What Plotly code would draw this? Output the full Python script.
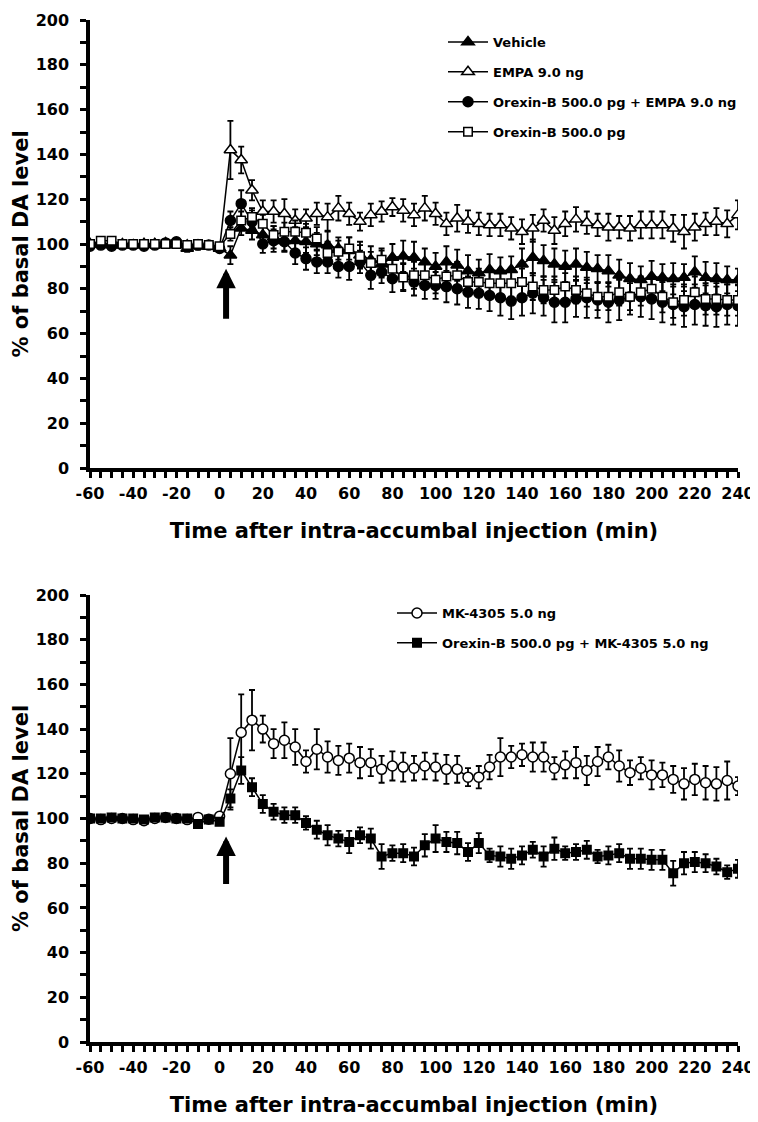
import plotly.graph_objects as go

# sampling times (min), every 5 min from -60 to 240
time_min = list(range(-60, 245, 5))

# axis tick labels (plain hyphen minus, as in the original figure)
x_tickvals = [-60, -40, -20, 0, 20, 40, 60, 80, 100, 120, 140, 160, 180, 200, 220, 240]
x_ticktext = ["-60", "-40", "-20", "0", "20", "40", "60", "80", "100", "120",
              "140", "160", "180", "200", "220", "240"]

# ---- top panel: % of basal DA ----
vehicle = [100, 100, 99.5, 100, 99.5, 100, 100, 100.5, 100, 98, 99, 99, 98,
           95, 107, 106, 104, 103, 101.5, 101.5, 101, 100, 99.5,
           98, 97, 95, 93, 91, 94, 94.5, 94, 92, 90,
           92, 90.5, 88, 87, 88.5, 88, 88.5, 91, 94, 92.5,
           91, 90, 91, 89.5, 89, 88, 86, 84.5, 84, 85.5,
           85, 84.5, 85, 87.5, 85, 84.5, 84, 84]
vehicle_err = [1.5, 1, 1.5, 1, 1, 1, 1, 1.5, 1, 1.5, 1.5, 1, 1.5,
               4, 3, 4, 5, 5, 5, 6, 5, 5, 6,
               5, 6, 6, 6, 6, 6, 7, 7, 6, 6,
               7, 7, 7, 6, 7, 6, 6, 7, 8, 7,
               7, 7, 7, 7, 6, 7, 7, 7, 6, 7,
               6, 7, 6, 7, 7, 7, 6, 5]

empa = [100, 100.5, 100, 99.5, 99.5, 100, 100, 99.5, 100, 99.5, 99.5, 99, 98,
        142, 137.5, 124, 114.5, 114.5, 113.5, 110.5, 111.5, 113.5, 112,
        116, 113.5, 110, 113, 114.5, 116.5, 115, 113, 116, 113.5,
        109, 111.5, 110, 109, 108.5, 108.5, 107, 105.5, 107, 110.5,
        106, 109, 111, 109.5, 108.5, 107.5, 107.5, 107, 108.5, 108.5,
        108.5, 107, 105.5, 107.5, 109, 110, 109, 113]
empa_err = [1, 1, 1, 1, 1, 1, 1, 1, 1, 1, 1, 1, 1.5,
            13, 6, 4.5, 5, 5, 6.5, 5, 4, 5, 6,
            5.5, 5, 4, 5, 4.5, 4, 5, 5, 5.5, 5,
            5, 6, 5, 5, 5, 5, 5, 5.5, 6, 5,
            6, 5.5, 5.5, 5, 5, 6, 5, 5.5, 6, 6,
            6, 6, 7.5, 6, 5, 6, 6, 6.5]

orx_empa = [99, 99.5, 99, 99.5, 99.5, 99, 99.5, 100.5, 101, 99, 99.5, 99.5, 98,
            110.5, 118, 110, 100, 101.5, 101, 96, 93.5, 92, 92,
            90, 90, 92, 86, 87.5, 84.5, 85.5, 83, 81.5, 81.5,
            81, 80, 78.5, 78, 77, 76, 74.5, 76, 78, 76,
            74, 74, 75.5, 76, 75, 74, 75, 76.5, 76.5, 75.5,
            74, 73, 72, 73, 72.5, 72, 73, 72.5]
orx_empa_err = [1, 1, 1, 1, 1, 1, 1, 1.5, 1.5, 1, 1, 1, 1.5,
                4, 6, 5, 4, 5, 4, 5, 5, 5, 5,
                5, 6, 5, 6, 5, 6, 6, 6, 6, 6,
                7, 7, 7, 7, 7, 8, 8, 8, 9, 8,
                9, 9, 8, 9, 8, 9, 9, 8, 9, 9,
                9, 9, 9, 9, 9, 9, 9, 9]

orx = [100, 101.5, 101.5, 100, 100, 100, 100, 100, 100, 99.5, 100, 99.5, 99,
       104.5, 110.5, 112, 109, 104, 105.5, 105.5, 105, 102.5, 96,
       96.5, 98, 94.5, 91.5, 93, 89, 85, 86, 86, 84,
       85.5, 86, 83, 83, 82.5, 82.5, 82.5, 83, 81, 79.5,
       79.5, 81, 79.5, 78, 76.5, 76.5, 78.5, 76.5, 78.5, 80,
       76.5, 74, 75, 78.5, 75.5, 75.5, 75, 75]
orx_err = [1, 1, 1, 1, 1, 1, 1, 1, 1, 1, 1, 1, 1,
           3, 4, 4, 4, 4, 4, 5, 4, 5, 5,
           5, 5, 5, 5, 5, 5, 6, 6, 6, 6,
           6, 6, 6, 6, 6, 6, 6, 6, 6, 6,
           6, 6, 6, 6, 6, 6, 6, 6, 6, 6,
           7, 7, 7, 7, 7, 7, 7, 7]

# ---- bottom panel ----
mk = [100, 99.5, 100, 100, 99.5, 99, 100, 100.5, 100, 99.5, 100.5, 99.7, 101,
      120, 138.5, 144, 140, 133.5, 135, 132, 125.5, 131, 127.5,
      126, 127, 125, 125, 122, 123.5, 123, 122.5, 123.5, 123,
      122, 122, 118.5, 118.5, 123, 127.5, 127.5, 128.5, 127.5, 127.5,
      122.5, 124, 125, 121.5, 125.5, 127.5, 123.5, 120.5, 122.5, 119.5,
      119.5, 117.5, 115.5, 117.5, 116, 115.5, 117, 114.5]
mk_err = [1, 1, 1, 1, 1, 1, 1, 1, 1, 1, 1, 1, 1.5,
          16, 17, 13.5, 6, 6.5, 8, 8, 5, 9, 7,
          6.5, 6.5, 7, 6, 6, 6.5, 6.5, 5.5, 6, 6,
          6.5, 6, 4, 5, 5.5, 8.5, 5, 5, 6.5, 6.5,
          5, 6, 7, 6.5, 6.5, 5.5, 7, 5.5, 5, 6.5,
          5.5, 6, 7, 7, 7.5, 7.5, 8.5, 4]

orx_mk = [100, 100, 100.5, 100, 100, 99.5, 100.5, 100.5, 100, 100, 97.5, 99.5, 98.5,
          109, 121.5, 114, 106.5, 103, 101.5, 101.5, 98, 95, 92.5,
          91, 89.5, 92.5, 91, 83, 84.5, 84.5, 83, 88, 91,
          89.5, 89, 85, 89, 83.5, 83, 82, 83.5, 86, 83,
          86.5, 84.5, 85, 86, 83, 83.5, 84.5, 82, 82, 81.5,
          81.5, 75.5, 80, 80.5, 80, 78.5, 76, 77.5]
orx_mk_err = [1, 1, 1, 1, 1, 1, 1, 1, 1, 1, 1.5, 1, 1.5,
              4, 6, 4, 4, 3.5, 3.5, 3.5, 3, 4, 4.5,
              3.5, 5, 3.5, 4.5, 5.5, 3.5, 4, 4, 5, 6,
              4.5, 5, 4, 4.5, 3, 4.5, 4.5, 4, 3.5, 4.5,
              5, 3, 3.5, 4, 3, 4, 4, 4.5, 4.5, 4.5,
              4.5, 5.5, 5, 4.5, 4, 3.5, 3, 4]

FONT = "DejaVu Sans, Arial, sans-serif"


def add_series(fig, y, err, name, symbol, filled, size, xaxis, yaxis, legend):
    fig.add_trace(go.Scatter(
        x=time_min, y=y, name=name, mode="lines+markers",
        xaxis=xaxis, yaxis=yaxis, legend=legend,
        line=dict(color="black", width=1.5),
        marker=dict(symbol=symbol, size=size,
                    color="black" if filled else "white",
                    line=dict(color="black", width=1.5)),
        error_y=dict(type="data", array=err, color="black", thickness=1.8, width=3),
        legendgroup=name,
    ))


fig = go.Figure()

add_series(fig, vehicle, vehicle_err, "Vehicle", "triangle-up", True, 11, "x", "y", "legend")
add_series(fig, empa, empa_err, "EMPA 9.0 ng", "triangle-up", False, 11, "x", "y", "legend")
add_series(fig, orx_empa, orx_empa_err, "Orexin-B 500.0 pg + EMPA 9.0 ng", "circle", True, 10, "x", "y", "legend")
add_series(fig, orx, orx_err, "Orexin-B 500.0 pg", "square", False, 8.5, "x", "y", "legend")

add_series(fig, mk, mk_err, "MK-4305 5.0 ng", "circle", False, 10, "x2", "y2", "legend2")
add_series(fig, orx_mk, orx_mk_err, "Orexin-B 500.0 pg + MK-4305 5.0 ng", "square", True, 8.5, "x2", "y2", "legend2")

# the page body adds an 8 px margin, so the figure is 16 px smaller than the window
W, H = 750, 1114

xaxis_style = dict(
    range=[-60, 240], tickmode="array", tickvals=x_tickvals, ticktext=x_ticktext,
    ticks="outside", ticklen=6, tickwidth=3, tickcolor="black",
    minor=dict(tickmode="linear", tick0=-60, dtick=5, ticks="outside",
               ticklen=6, tickwidth=3, tickcolor="black"),
    showline=True, linewidth=3.5, linecolor="black", showgrid=False, zeroline=False,
    automargin=False, ticklabelstandoff=2,
    tickfont=dict(family=FONT, size=16, color="black", weight="bold"),
    title=dict(text="Time after intra-accumbal injection (min)", standoff=22,
               font=dict(family=FONT, size=21, color="black", weight="bold")),
)
yaxis_style = dict(
    range=[0, 200], tickmode="linear", tick0=0, dtick=20,
    ticks="outside", ticklen=6, tickwidth=3, tickcolor="black",
    minor=dict(dtick=10, ticks="outside", ticklen=6, tickwidth=3, tickcolor="black"),
    showline=True, linewidth=3.5, linecolor="black", showgrid=False, zeroline=False,
    automargin=False, ticklabelstandoff=8,
    tickfont=dict(family=FONT, size=16, color="black", weight="bold"),
    title=dict(text="% of basal DA level", standoff=2,
               font=dict(family=FONT, size=21, color="black", weight="bold")),
)

x_dom = [82 / W, 730 / W]
legend_style = dict(
    font=dict(family=FONT, size=13, color="black", weight="bold"),
    bgcolor="rgba(0,0,0,0)", traceorder="grouped", tracegroupgap=10,
    itemwidth=40, xanchor="left", yanchor="top",
)

fig.update_layout(
    width=W, height=H,
    margin=dict(l=0, r=0, t=0, b=0, autoexpand=False),
    paper_bgcolor="white", plot_bgcolor="white",
    font=dict(family=FONT, color="black"),
    xaxis=dict(domain=x_dom, anchor="y", **xaxis_style),
    yaxis=dict(domain=[1 - 460 / H, 1 - 12 / H], anchor="x", **yaxis_style),
    xaxis2=dict(domain=x_dom, anchor="y2", **xaxis_style),
    yaxis2=dict(domain=[1 - 1034 / H, 1 - 587 / H], anchor="x2", **yaxis_style),
    legend=dict(x=435 / W, y=1 - 19 / H, **legend_style),
    legend2=dict(x=384 / W, y=1 - 590 / H, **legend_style),
    showlegend=True,
)

# injection arrows
for xr, yr, tip, tail in [("x", "y", 89, 66), ("x2", "y2", 92, 70)]:
    fig.add_annotation(
        x=3, y=tip, xref=xr, yref=yr, ax=3, ay=tail, axref=xr, ayref=yr,
        text="", showarrow=True, arrowhead=2, arrowsize=0.65, arrowwidth=6,
        arrowcolor="black",
    )

fig.write_html("out.html")
